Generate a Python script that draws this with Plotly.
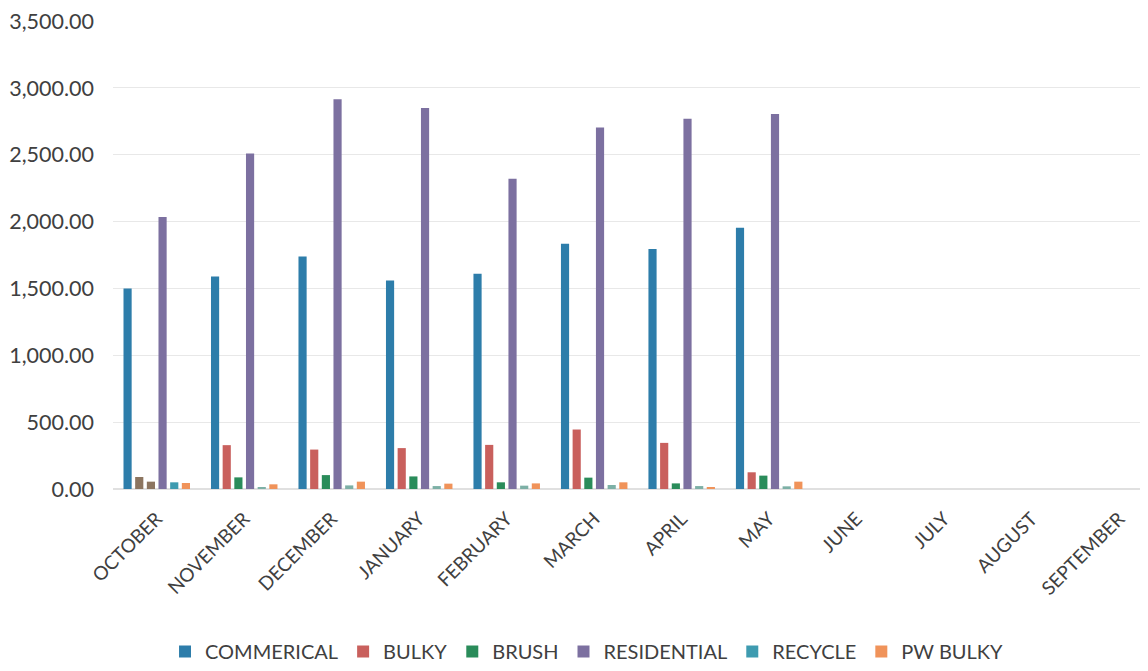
import plotly.graph_objects as go

months = ["OCTOBER", "NOVEMBER", "DECEMBER", "JANUARY", "FEBRUARY", "MARCH",
          "APRIL", "MAY", "JUNE", "JULY", "AUGUST", "SEPTEMBER"]

commercial = [1500, 1590, 1740, 1560, 1610, 1835, 1795, 1955, None, None, None, None]
bulky = [90, 328, 295, 306, 330, 445, 345, 125, None, None, None, None]
brush = [55, 87, 104, 94, 50, 85, 42, 100, None, None, None, None]
residential = [2035, 2510, 2915, 2850, 2320, 2705, 2770, 2805, None, None, None, None]
recycle = [50, 15, 27, 22, 25, 30, 22, 20, None, None, None, None]
pw_bulky = [45, 35, 55, 40, 42, 50, 15, 55, None, None, None, None]

series = [
    ("COMMERICAL", commercial, "#2D7DAA"),
    ("BULKY", bulky, "#C9605D"),
    ("BRUSH", brush, "#2A8C5A"),
    ("RESIDENTIAL", residential, "#7C70A0"),
    ("RECYCLE", recycle, "#3E9BB0"),
    ("PW BULKY", pw_bulky, "#F0935A"),
]

fig = go.Figure()
for name, vals, col in series:
    colors = [col] * len(months)
    if name in ("BULKY", "BRUSH"):
        colors[0] = "#8C7560"
    if name == "RECYCLE":
        colors = [col] + ["#7DB0A6"] * (len(months) - 1)
    fig.add_trace(go.Bar(
        name=name, x=months, y=vals, offsetgroup=name, showlegend=False,
        legendgroup=name,
        marker=dict(color=colors, line=dict(width=0)),
    ))
    # legend entry with the series colour
    fig.add_trace(go.Bar(
        name=name, x=months, y=[None] * len(months), offsetgroup=name,
        legendgroup=name, showlegend=True,
        marker=dict(color=col, line=dict(width=0)),
    ))

fig.update_layout(
    width=1140, height=663,
    paper_bgcolor="white", plot_bgcolor="white",
    barmode="group", bargap=0.2, bargroupgap=0.3,
    margin=dict(l=105, r=0, t=13, b=181),
    font=dict(family="Lato, 'Open Sans', sans-serif", color="#404040"),
    showlegend=True,
    legend=dict(orientation="h", x=0.458, xanchor="center", y=-0.348, yanchor="middle",
                font=dict(size=20, color="#404040"), traceorder="normal",
                itemwidth=30),
    xaxis=dict(
        tickangle=-45, tickfont=dict(size=19, color="#404040"),
        range=[-0.5, 11.33], showgrid=False, showline=False, ticks="",
        ticklabelstandoff=14,
    ),
    yaxis=dict(
        range=[0, 3501], dtick=500, tickformat=",.2f",
        tickfont=dict(size=21.5, color="#404040"),
        gridcolor="#e8e8e8", gridwidth=1, zeroline=True, zerolinecolor="#e0e0e0",
        showline=False, ticks="", ticklabelstandoff=18,
        ticklabeloverflow="allow",
    ),
)

fig.write_html("out.html")
